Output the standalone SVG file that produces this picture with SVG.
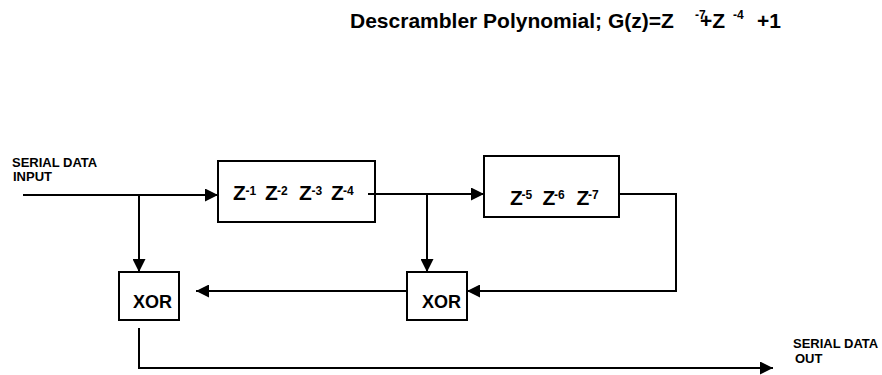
<svg xmlns="http://www.w3.org/2000/svg" width="882" height="375" viewBox="0 0 882 375">
<style>
text{font-family:"Liberation Sans",Arial,sans-serif;font-weight:bold;fill:#000}
.box{fill:#fff;stroke:#000;stroke-width:2}
.ln{fill:none;stroke:#000;stroke-width:2}
.lbl{font-size:13px}
.z{font-size:21px}
.sup{font-size:12px}
.xor{font-size:18px}
.title{font-size:21px}
.tsup{font-size:12px}
</style>
<defs>
<marker id="ah" markerUnits="userSpaceOnUse" markerWidth="13" markerHeight="13" viewBox="0 0 12 12" refX="12" refY="6" orient="auto">
<path d="M0,0 L12,6 L0,12 Z" fill="#000"/>
</marker>
</defs>
<rect width="882" height="375" fill="#fff"/>
<g id="title">
<text class="title" x="350" y="28">Descrambler Polynomial; G(z)=Z</text>
<text class="tsup" x="695" y="19">-7</text>
<text class="title" x="700" y="28">+Z</text>
<text class="tsup" x="733" y="19">-4</text>
<text class="title" x="757" y="28">+1</text>
</g>
<g id="connectors">
<path class="ln" d="M23,195 H218" marker-end="url(#ah)"/>
<path class="ln" d="M139,195 V272" marker-end="url(#ah)"/>
<path class="ln" d="M368,194 H484" marker-end="url(#ah)"/>
<path class="ln" d="M427,194 V272" marker-end="url(#ah)"/>
<path class="ln" d="M619,194 H676 V291 H467" marker-end="url(#ah)"/>
<path class="ln" d="M407,291 H196" marker-end="url(#ah)"/>
<path class="ln" d="M139,328 V368 H773" marker-end="url(#ah)"/>
</g>
<g id="input-label">
<text class="lbl" x="12" y="167">SERIAL DATA</text>
<text class="lbl" x="13" y="181">INPUT</text>
</g>
<g id="delay1">
<rect class="box" x="218" y="161" width="157" height="61"/>
<text class="z" y="200"><tspan x="233">Z</tspan><tspan x="265">Z</tspan><tspan x="299">Z</tspan><tspan x="331">Z</tspan></text>
<text class="sup" y="195"><tspan x="245.5">-1</tspan><tspan x="277">-2</tspan><tspan x="311.5">-3</tspan><tspan x="343">-4</tspan></text>
<path class="ln" d="M368,194 H376"/>
</g>
<g id="delay2">
<rect class="box" x="484" y="156" width="135" height="61"/>
<text class="z" y="205"><tspan x="510">Z</tspan><tspan x="542.5">Z</tspan><tspan x="576.5">Z</tspan></text>
<text class="sup" y="199"><tspan x="521.5">-5</tspan><tspan x="554">-6</tspan><tspan x="588">-7</tspan></text>
</g>
<g id="xor2">
<rect class="box" x="407" y="272" width="60" height="48"/>
<text class="xor" x="422" y="308">XOR</text>
</g>
<g id="xor1">
<rect class="box" x="119" y="272" width="60" height="48"/>
<text class="xor" x="133" y="308">XOR</text>
</g>
<g id="output-label">
<text class="lbl" x="793" y="348">SERIAL DATA</text>
<text class="lbl" x="795" y="363">OUT</text>
</g>
</svg>
